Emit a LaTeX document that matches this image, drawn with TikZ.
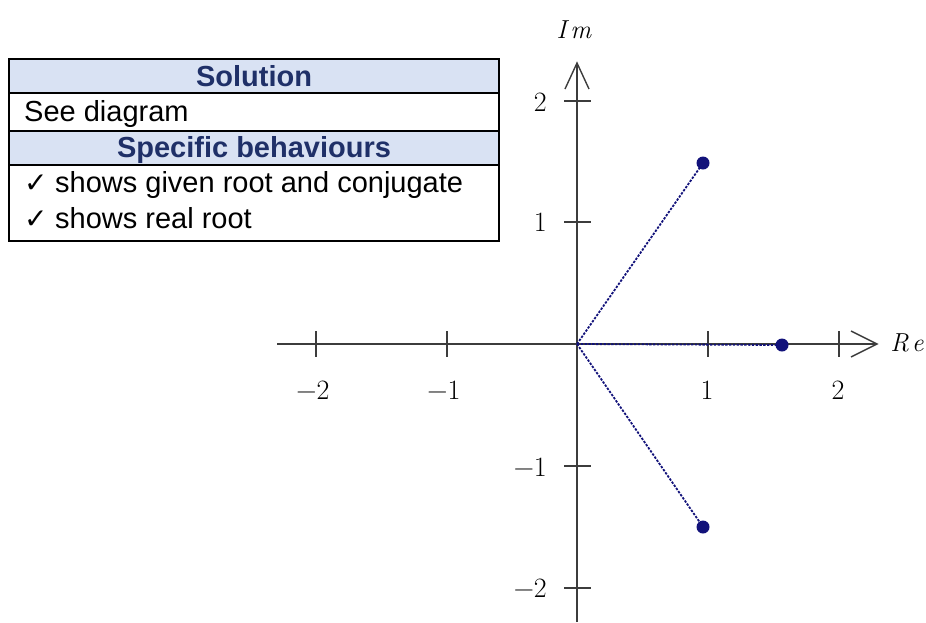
\documentclass[tikz,border=0pt]{standalone}
\usepackage{fontspec}
\setmainfont{Liberation Sans}
\newfontfamily\lmfont{Latin Modern Roman}
\newfontfamily\chkfont{DejaVu Sans}
\definecolor{headfill}{HTML}{D9E2F3}
\definecolor{headtext}{HTML}{1F3068}
\definecolor{axisgray}{HTML}{3C3C3C}
\definecolor{rootblue}{HTML}{12127A}
\newcommand{\chk}{\makebox[31pt][l]{\chkfont\fontsize{28}{30}\selectfont ✓}}
\begin{document}
\begin{tikzpicture}[x=1pt,y=-1pt,
  tabtext/.style={font=\fontsize{29}{34}\selectfont, inner sep=0pt},
  headtxt/.style={tabtext, text=headtext, font=\fontsize{29}{34}\selectfont\bfseries},
  ticklab/.style={font=\lmfont\fontsize{28}{32}\selectfont, inner sep=1pt},
  axislab/.style={font=\lmfont\itshape\fontsize{26}{30}\selectfont, inner sep=1pt},
  axisline/.style={draw=axisgray, line width=1.4pt},
  rootline/.style={draw=rootblue, line width=1.8pt, dash pattern=on 2.4pt off 1.4pt},
  rootdot/.style={circle, fill=rootblue, inner sep=0pt, minimum size=13pt}]
\useasboundingbox (0,0) rectangle (926,622);
% ---- table ----
\fill[headfill] (9,59) rectangle (499,93);
\fill[headfill] (9,131) rectangle (499,165);
\draw[line width=1.5pt] (9,59) rectangle (499,241);
\draw[line width=1.5pt] (9,93) -- (499,93);
\draw[line width=1.5pt] (9,131) -- (499,131);
\draw[line width=1.5pt] (9,165) -- (499,165);
\node[headtxt, anchor=base] (sol) at (254,86.5) {Solution};
\node[tabtext, anchor=base west] (see) at (24,121.5) {See diagram};
\node[headtxt, anchor=base] (spec) at (254,157) {Specific behaviours};
\node[tabtext, anchor=base west] (b1) at (24,192) {\chk shows given root and conjugate};
\node[tabtext, anchor=base west] (b2) at (24,228) {\chk shows real root};
% ---- axes ----
\coordinate (O) at (577,344);
\coordinate (xs) at (277,344);
\coordinate (xe) at (877,344);
\coordinate (ys) at (577,622);
\coordinate (ye) at (577,63);
\draw[axisline] (xs) -- (xe);
\draw[axisline] (ys) -- (ye);
\draw[axisline] (851,331) -- (xe) -- (851,357);
\draw[axisline] (565,89) -- (ye) -- (589,89);
\node[axislab] (re) at (907,343) {R\kern3pt e};
\node[axislab] (im) at (574,30) {I\kern4pt m};
% x ticks
\foreach \px in {316,447,708,839}{
  \draw[axisline] (\px,331) -- (\px,357);
}
\node[ticklab] at (313,390) {−2};
\node[ticklab] at (444,390) {−1};
\node[ticklab] at (707,390) {1};
\node[ticklab] at (838,390) {2};
% y ticks
\foreach \py in {101,222,466,588}{
  \draw[axisline] (564,\py) -- (591,\py);
}
\node[ticklab, anchor=east] at (548,102) {2};
\node[ticklab, anchor=east] at (548,222) {1};
\node[ticklab, anchor=east] at (548,467) {−1};
\node[ticklab, anchor=east] at (548,588) {−2};
% ---- roots ----
\node[rootdot] (A) at (703,163) {};
\node[rootdot] (B) at (703,527) {};
\node[rootdot] (C) at (782,345) {};
\draw[rootline] (O) -- (A.center);
\draw[rootline] (O) -- (B.center);
\draw[rootline] (O) -- (C.center);
\end{tikzpicture}
\end{document}
